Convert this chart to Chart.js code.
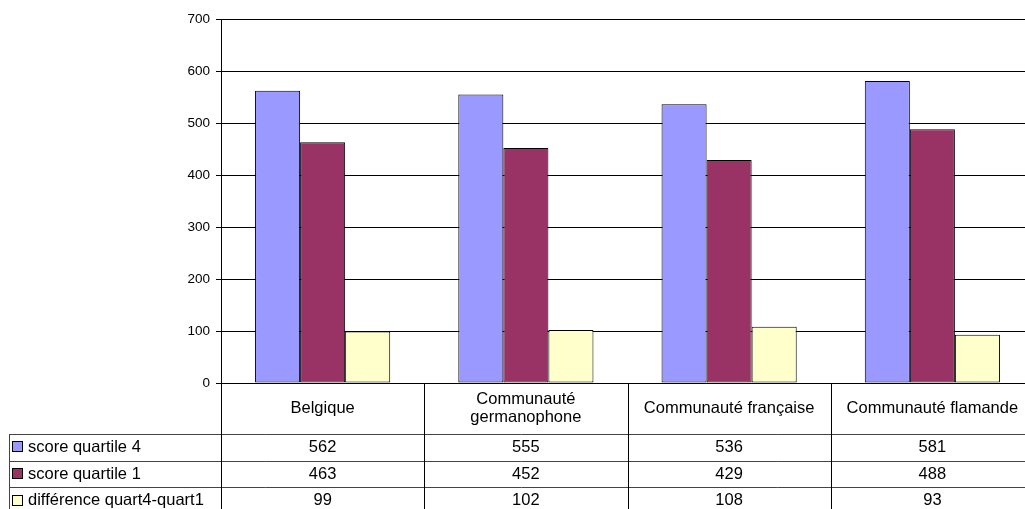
<!DOCTYPE html>
<html>
<head>
<meta charset="utf-8">
<script src="https://cdn.jsdelivr.net/npm/chart.js@4"></script>
<style>
    html, body { margin: 0; padding: 0; background: #fff; overflow: hidden; width: 1025px; height: 509px; }
    canvas { display: block; }
</style>
</head>
<body>
<canvas id="scores" width="1040" height="509"></canvas>
<script>
(function () {
    "use strict";

    // chart data
    var categories = ["Belgique", ["Communauté", "germanophone"], "Communauté française", "Communauté flamande"];
    var seriesNames = ["score quartile 4", "score quartile 1", "différence quart4-quart1"];
    var quartile4 = [562, 555, 536, 581];
    var quartile1 = [463, 452, 429, 488];
    var difference = [99, 102, 108, 93];
    var seriesColors = ["#9999FF", "#993366", "#FFFFCC"];

    var tableFont = '16.5px "Liberation Sans", Arial, sans-serif';

    // data table drawn under the plot, Excel style
    var dataTable = {
        id: "dataTable",
        afterDraw: function (chart) {
            var ctx = chart.ctx;
            var area = chart.chartArea;
            var xs = chart.scales.x;
            var n = categories.length;
            var colW = (area.right - area.left) / n;
            var headerBottom = area.bottom + 51;
            var rowH = 26.7;
            var tableLeft = 9;
            var rows = chart.data.datasets;

            ctx.save();
            ctx.lineWidth = 1;

            // horizontal lines
            ctx.strokeStyle = "#444";
            for (var r = 0; r <= rows.length; r++) {
                var y = Math.round(headerBottom + r * rowH) + 0.5;
                ctx.beginPath();
                ctx.moveTo(tableLeft, y);
                ctx.lineTo(area.right, y);
                ctx.stroke();
            }

            // vertical lines
            ctx.strokeStyle = "#000";
            for (var c = 0; c <= n; c++) {
                var x = Math.round(area.left + c * colW) + 0.5;
                ctx.beginPath();
                ctx.moveTo(x, area.bottom);
                ctx.lineTo(x, chart.height);
                ctx.stroke();
            }
            ctx.strokeStyle = "#444";
            ctx.beginPath();
            ctx.moveTo(tableLeft + 0.5, headerBottom);
            ctx.lineTo(tableLeft + 0.5, chart.height);
            ctx.stroke();

            ctx.font = tableFont;
            ctx.fillStyle = "#000";
            ctx.textBaseline = "middle";
            ctx.textAlign = "center";

            // header labels
            var headerMid = (area.bottom + headerBottom) / 2;
            for (var i = 0; i < n; i++) {
                var cx = xs.getPixelForValue(i);
                var lines = [].concat(categories[i]);
                var lh = 18;
                var y0 = headerMid - (lines.length - 1) * lh / 2;
                for (var l = 0; l < lines.length; l++) {
                    ctx.fillText(lines[l], cx, y0 + l * lh);
                }
            }

            // rows: legend key, name, values
            for (var s = 0; s < rows.length; s++) {
                var ym = headerBottom + s * rowH + rowH / 2;
                ctx.fillStyle = rows[s].backgroundColor;
                ctx.fillRect(12, Math.round(ym - 6), 11, 11);
                ctx.strokeStyle = "#000";
                ctx.strokeRect(12.5, Math.round(ym - 6) + 0.5, 10, 10);

                ctx.fillStyle = "#000";
                ctx.textAlign = "left";
                ctx.fillText(rows[s].label, 28, ym);
                ctx.textAlign = "center";
                for (var k = 0; k < n; k++) {
                    ctx.fillText(String(rows[s].data[k]), xs.getPixelForValue(k), ym);
                }
            }
            ctx.restore();
        }
    };

    var ctx = document.getElementById("scores").getContext("2d");
    var myChart = new Chart(ctx, {
        type: "bar",
        data: {
            labels: categories,
            datasets: [{
                    label: seriesNames[0],
                    data: quartile4,
                    backgroundColor: seriesColors[0]
                },
                {
                    label: seriesNames[1],
                    data: quartile1,
                    backgroundColor: seriesColors[1]
                },
                {
                    label: seriesNames[2],
                    data: difference,
                    backgroundColor: seriesColors[2]
                }
            ]
        },
        options: {
            responsive: false,
            animation: false,
            devicePixelRatio: 1,
            layout: {
                padding: { left: 0, top: 19, right: 6, bottom: 126 }
            },
            datasets: {
                bar: {
                    borderColor: "#000",
                    borderWidth: 1,
                    borderSkipped: false,
                    barPercentage: 1,
                    categoryPercentage: 0.665
                }
            },
            plugins: {
                legend: { display: false },
                tooltip: { enabled: false }
            },
            scales: {
                x: {
                    display: false
                },
                y: {
                    min: 0,
                    max: 700,
                    ticks: {
                        stepSize: 100,
                        color: "#000",
                        padding: 6,
                        font: { family: '"Liberation Sans", Arial, sans-serif', size: 13.5 }
                    },
                    grid: {
                        color: "#000",
                        lineWidth: 1,
                        tickLength: 5
                    },
                    border: { color: "#000", width: 1 },
                    afterFit: function (scale) {
                        scale.width = 221;
                    }
                }
            }
        },
        plugins: [dataTable]
    });
})();
</script>
</body>
</html>
